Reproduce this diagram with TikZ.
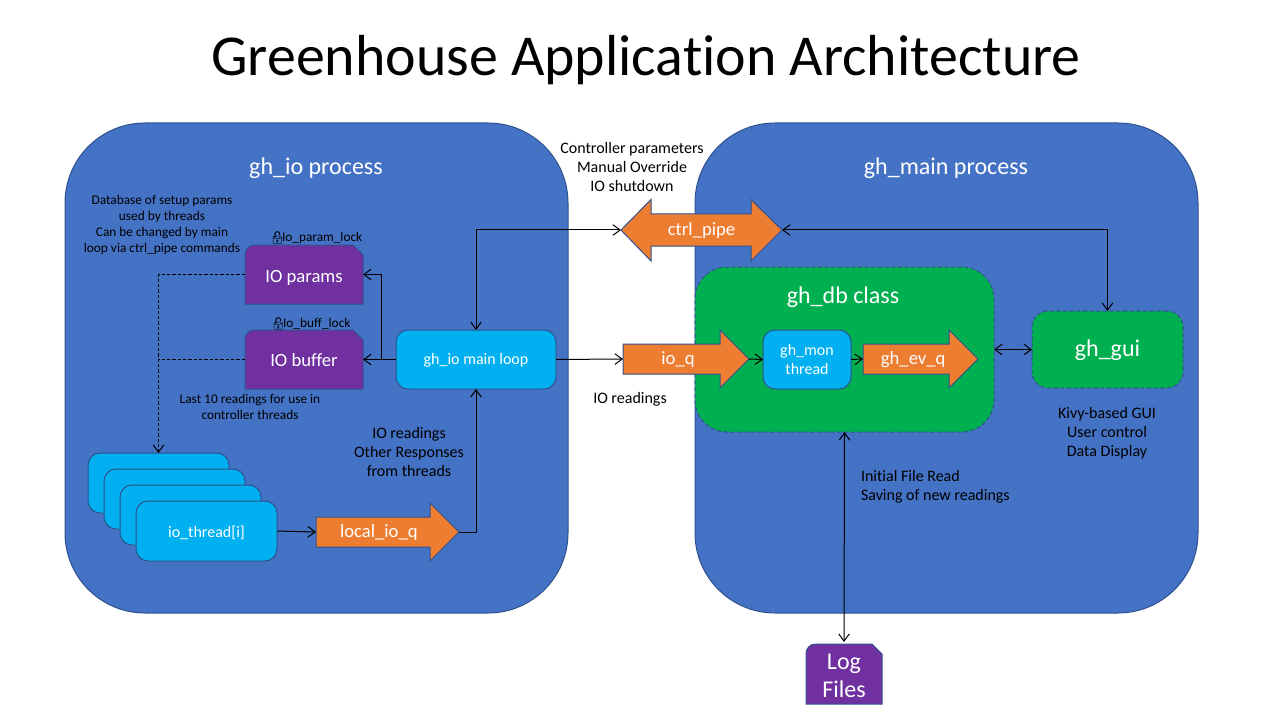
\documentclass[tikz,border=0pt]{standalone}
\usepackage{fontspec}
\setmainfont{Carlito}[Ligatures=NoCommon]
\newfontfamily\emojifont{Noto Emoji}
\usetikzlibrary{arrows.meta}
\definecolor{procblue}{HTML}{4472C4}
\definecolor{edgeblue}{HTML}{2F528F}
\definecolor{qorange}{HTML}{ED7D31}
\definecolor{dpurple}{HTML}{7030A0}
\definecolor{tcyan}{HTML}{00B0F0}
\definecolor{cgreen}{HTML}{00B050}
\tikzset{
  px/.style 2 args={minimum width=(#1)*0.75pt,minimum height=(#2)*0.75pt,inner sep=0pt,outer sep=0pt},
  procbox/.style={draw=edgeblue,line width=0.75pt,fill=procblue,rounded corners=60pt,text=white},
  classbox/.style={draw=edgeblue,line width=0.75pt,dash pattern=on 3pt off 2pt,fill=cgreen,text=white},
  cyanbox/.style={draw=edgeblue,line width=0.75pt,fill=tcyan,rounded corners=9pt,text=white,font=\fontsize{12}{14.4}\selectfont,align=center},
  shapeedge/.style={draw=edgeblue,line width=0.75pt},
  plain/.style={inner sep=0pt,outer sep=0pt,align=center,text=black},
  conn/.style={line width=0.75pt,draw=black,-{Straight Barb[length=5.5pt,width=8pt]}},
  bothconn/.style={line width=0.75pt,draw=black,{Straight Barb[length=5.5pt,width=8pt]}-{Straight Barb[length=5.5pt,width=8pt]}},
  dashconn/.style={line width=0.75pt,draw=black,dash pattern=on 2.5pt off 1.5pt},
}
% push centred text down by #1 by adding 2*#1 of height above it
\newcommand{\dnshift}[2]{\raisebox{0pt}[\dimexpr\height+2\dimexpr#1\relax\relax]{#2}}
\newcommand{\lockglyph}{\makebox[9pt][l]{\kern-0.5pt\raisebox{-1pt}{\emojifont\fontsize{9.5}{10}\selectfont 🔓}}}
% x1,y1,x2,y2,name,font size,shift,text
\newcommand{\snipbox}[8]{%
  \draw[shapeedge,fill=dpurple] ({#1},{#4}) -- ({#1},{#2+10}) .. controls ({#1},{#2+4}) and ({#1+4},{#2}) .. ({#1+10},{#2}) -- ({#3-10},{#2}) -- ({#3},{#2+10}) -- ({#3},{#4}) -- cycle;
  \node[px={#3-#1}{#4-#2},text=white,font=\fontsize{#6}{21}\selectfont] (#5) at ({(#1+#3)/2},{(#2+#4)/2}) {\dnshift{#7}{\begin{tabular}{@{}c@{}}#8\end{tabular}}};}
% x1,x2,yc,headbase,shafthalf,headhalf,name,text-shift(pt),text
\newcommand{\qarrow}[9]{%
  \draw[shapeedge,fill=qorange] ({#1},{#3-#5}) -- ({#4},{#3-#5}) -- ({#4},{#3-#6}) -- ({#2},{#3}) -- ({#4},{#3+#6}) -- ({#4},{#3+#5}) -- ({#1},{#3+#5}) -- cycle;
  \node[px={#2-#1}{2*#6},text=white,font=\fontsize{14}{16.8}\selectfont] (#7) at ({(#1+#2)/2},{#3}) {\hspace*{#8}\dnshift{0.75pt}{#9}};}
\begin{document}
\begin{tikzpicture}[x=0.75pt,y=-0.75pt]
\useasboundingbox (0,0) rectangle (1280,720);
\node[plain,font=\fontsize{43.4}{52}\selectfont] (title) at (646,60) {Greenhouse Application Architecture};
% processes
\node[procbox,px={503}{490}] (ioproc) at (316.5,368) {};
\node[procbox,px={503}{490}] (mainproc) at (946.5,368) {};
\node[plain,text=white,font=\fontsize{18}{21.6}\selectfont] (iolabel) at (316,168) {gh\_io process};
\node[plain,text=white,font=\fontsize{18}{21.6}\selectfont] (mainlabel) at (946,168) {gh\_main process};
% green
\node[classbox,rounded corners=24pt,px={299}{165}] (db) at (844.5,349.5) {};
\node[plain,text=white,font=\fontsize{18}{21.6}\selectfont] (dblabel) at (843,297) {gh\_db class};
\node[classbox,rounded corners=12pt,px={151}{77},font=\fontsize{18}{21.6}\selectfont] (gui) at (1107.5,349.5) {\dnshift{0.75pt}{gh\_gui}};
% purple
\snipbox{245}{245}{363}{304}{params}{14}{1.5pt}{IO params}
\snipbox{245}{330}{363}{389}{buffer}{14}{0.75pt}{IO buffer}
\snipbox{806}{644}{882}{704}{logs}{18}{3pt}{Log\\Files}
% cyan
\node[cyanbox,px={160}{59}] (loop) at (476,359.5) {\dnshift{0.75pt}{gh\_io main loop}};
\node[cyanbox,px={88}{59}] (mon) at (807,359.5) {gh\_mon\\thread};
\node[cyanbox,px={141}{60}] (th1) at (158.5,483) {};
\node[cyanbox,px={141}{60}] (th2) at (174.5,499) {};
\node[cyanbox,px={141}{60}] (th3) at (190.5,515) {};
\node[cyanbox,px={141}{60}] (th4) at (206.5,531) {\dnshift{1.5pt}{io\_thread[i]}};
% orange arrows
\draw[shapeedge,fill=qorange] (621,230) -- (651,199.5) -- (651,214) -- (751,214) -- (751,199.5) -- (782,230) -- (751,261) -- (751,246) -- (651,246) -- (651,261) -- cycle;
\node[px={161}{61},text=white,font=\fontsize{14}{16.8}\selectfont] (ctrl) at (701.5,230) {\dnshift{0.75pt}{ctrl\_pipe}};
\qarrow{623}{749}{359}{720}{15}{29}{ioq}{-12pt}{io\_q}
\qarrow{863}{978}{359}{949}{15}{29}{evq}{-11pt}{gh\_ev\_q}
\qarrow{316}{459}{532}{430}{15}{29}{localq}{-13pt}{local\_io\_q}
% text
\node[plain,font=\fontsize{10}{12}\selectfont] (dbnote) at (162,225) {Database of setup params\\used by threads\\Can be changed by main\\loop via ctrl\_pipe commands};
\node[plain,anchor=west,font=\fontsize{10}{12}\selectfont] (plock) at (270,238.5) {\lockglyph Io\_param\_lock};
\node[plain,anchor=west,font=\fontsize{10}{12}\selectfont] (block) at (271,324.5) {\lockglyph Io\_buff\_lock};
\node[plain,font=\fontsize{10}{12}\selectfont] (bufnote) at (250,407) {Last 10 readings for use in\\controller threads};
\node[plain,font=\fontsize{12}{14.4}\selectfont] (respnote) at (409,452) {IO readings\\Other Responses\\from threads};
\node[plain,font=\fontsize{12}{14.4}\selectfont] (ctrlnote) at (632,167) {Controller parameters\\Manual Override\\IO shutdown};
\node[plain,font=\fontsize{12}{14.4}\selectfont] (ionote) at (630,399) {IO readings};
\node[plain,align=left,anchor=west,font=\fontsize{12}{14.4}\selectfont] (filenote) at (861,487) {Initial File Read\\Saving of new readings};
\node[plain,font=\fontsize{12}{14.4}\selectfont] (guinote) at (1107,433) {Kivy-based GUI\\User control\\Data Display};
% connectors
\draw[bothconn] (loop.north) |- (ctrl.west);
\draw[bothconn] (ctrl.east) -| (gui.north);
\draw[conn] (loop.west) -- (buffer.east);
\draw[conn] (loop.west) -- (381,359.5) |- (params.east);
\draw[conn] (loop.east) -- (ioq.west);
\draw[conn] (ioq.east) -- (mon.west);
\draw[conn] (mon.east) -- (evq.west);
\draw[bothconn] (db.east) -- (gui.west);
\draw[conn] (localq.east) -| (loop.south);
\draw[conn] (th4.east) -- (localq.west);
\draw[dashconn,-{Straight Barb[length=5.5pt,width=8pt]}] (params.west) -| (th1.north);
\draw[dashconn] (buffer.west) -- (th1.north |- buffer.west);
\draw[bothconn] (db.south) -- (logs.north);
\end{tikzpicture}
\end{document}
